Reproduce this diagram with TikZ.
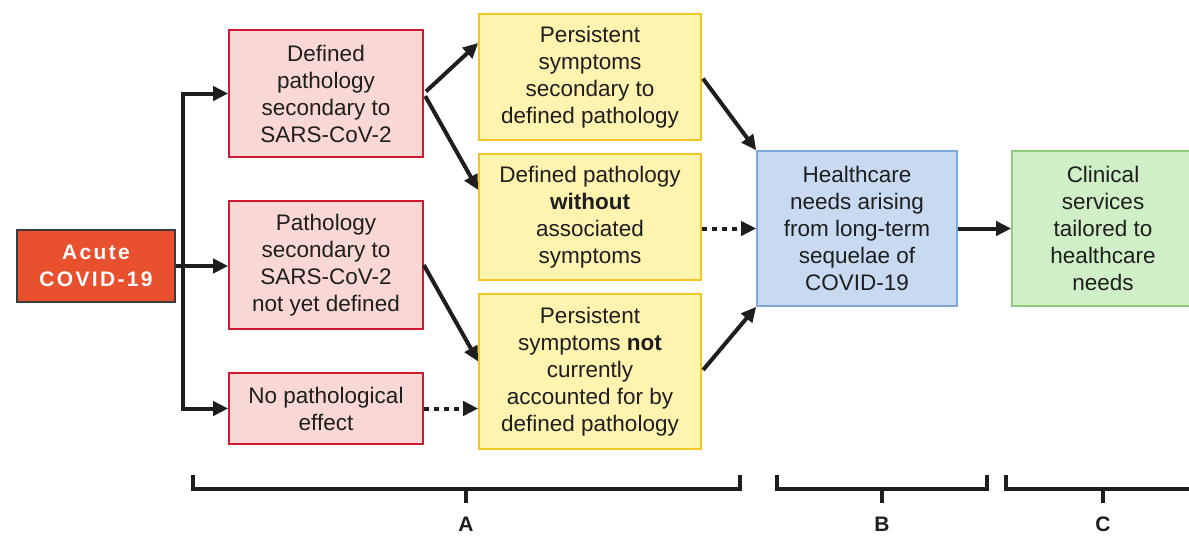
\documentclass[tikz,border=0pt]{standalone}
\usepackage{fontspec}
\setmainfont{Liberation Sans}
\usetikzlibrary{arrows.meta,calc}
\definecolor{acutefill}{HTML}{E8502E}
\definecolor{acuteline}{HTML}{3A3A3A}
\definecolor{pinkfill}{HTML}{F8D7D4}
\definecolor{pinkline}{HTML}{D0182F}
\definecolor{yelfill}{HTML}{FFF3B0}
\definecolor{yelline}{HTML}{F3C623}
\definecolor{bluefill}{HTML}{C8DAF1}
\definecolor{blueline}{HTML}{7BA7D9}
\definecolor{grnfill}{HTML}{CFF0C6}
\definecolor{grnline}{HTML}{8FC97A}
\definecolor{ink}{HTML}{1E1E1E}
\begin{document}
\begin{tikzpicture}[x=1pt,y=-1pt,
  box/.style={draw, line width=1.6pt, align=center, text=ink, inner sep=0pt,
    font=\fontsize{22.5}{27}\selectfont},
  pinkbox/.style={box, fill=pinkfill, draw=pinkline, minimum width=194pt},
  yelbox/.style={box, fill=yelfill, draw=yelline, minimum width=222pt},
  acutebox/.style={draw=acuteline, fill=acutefill, line width=1.6pt, align=center, text=white,
    minimum width=158pt, minimum height=72pt,
    font=\fontsize{21}{27}\selectfont\bfseries\addfontfeature{LetterSpace=11}},
  arr/.style={draw=ink, line width=4pt, -{Triangle[length=15pt,width=14pt]}},
  dotarr/.style={arr, dash pattern=on 5pt off 5pt},
  brace/.style={draw=ink, line width=4pt},
  bracelabel/.style={text=ink, inner sep=1pt, font=\fontsize{21}{24}\selectfont\bfseries}
]
\useasboundingbox (0,0) rectangle (1189,536);
\fill[white] (0,0) rectangle (1189,536);

\node[acutebox] (acute) at (96,266) {Acute\\COVID-19};

\node[pinkbox, minimum height=127pt] (p1) at (326,93.5) {Defined\\pathology\\secondary to\\SARS-CoV-2};
\node[pinkbox, minimum height=128pt] (p2) at (326,265) {Pathology\\secondary to\\SARS-CoV-2\\not yet defined};
\node[pinkbox, minimum height=71pt] (p3) at (326,408.5) {No pathological\\effect};

\node[yelbox, minimum height=126pt] (y1) at (590,77) {Persistent\\symptoms\\secondary to\\defined pathology};
\node[yelbox, minimum height=126pt] (y2) at (590,217) {Defined pathology\\\textbf{without}\\associated\\symptoms};
\node[yelbox, minimum height=155pt] (y3) at (590,371.5) {Persistent\\symptoms \textbf{not}\\currently\\accounted for by\\defined pathology};

\node[box, fill=bluefill, draw=blueline, minimum width=200pt, minimum height=155pt] (blue) at (857,228.5)
  {Healthcare\\needs arising\\from long-term\\sequelae of\\COVID-19};
\node[box, fill=grnfill, draw=grnline, minimum width=182pt, minimum height=155pt] (green) at (1103,228.5)
  {Clinical\\services\\tailored to\\healthcare\\needs};

% trunk from acute
\coordinate (trunk) at (183,266);
\draw[draw=ink, line width=4pt] (acute.east) -- (trunk);
\draw[arr] ([yshift=2pt]trunk) |- (p1.west);
\draw[arr] (trunk) -- (trunk -| p2.west);
\draw[arr] ([yshift=-2pt]trunk) |- (p3.west);

% pathology to symptoms
\draw[arr, shorten <=3pt] (p1.east) -- ([yshift=34pt]y1.west);
\draw[arr, shorten <=3pt] (p1.east) -- ([yshift=27pt]y2.west);
\draw[arr] (p2.east) -- ([yshift=10pt]y3.west);
\draw[dotarr] (p3.east) -- (p3.east -| y3.west);

% symptoms to healthcare needs
\draw[arr, shorten <=2pt] (y1.east) -- (blue.north west);
\draw[dotarr] (blue.west -| y2.east) -- (blue.west);
\draw[arr, shorten <=2pt] (y3.east) -- (blue.south west);

\draw[arr] (blue.east) -- (green.west);

% braces
\draw[brace] (193,475) -- (193,489) -- (740,489) -- (740,475);
\draw[brace] (466,489) -- (466,503);
\draw[brace] (777,475) -- (777,489) -- (987,489) -- (987,475);
\draw[brace] (882,489) -- (882,503);
\draw[brace] (1006,475) -- (1006,489) -- (1200,489);
\draw[brace] (1103,489) -- (1103,503);

\node[bracelabel, anchor=base] (labA) at (466,531) {A};
\node[bracelabel, anchor=base] (labB) at (882,531) {B};
\node[bracelabel, anchor=base] (labC) at (1103,531) {C};
\end{tikzpicture}
\end{document}
